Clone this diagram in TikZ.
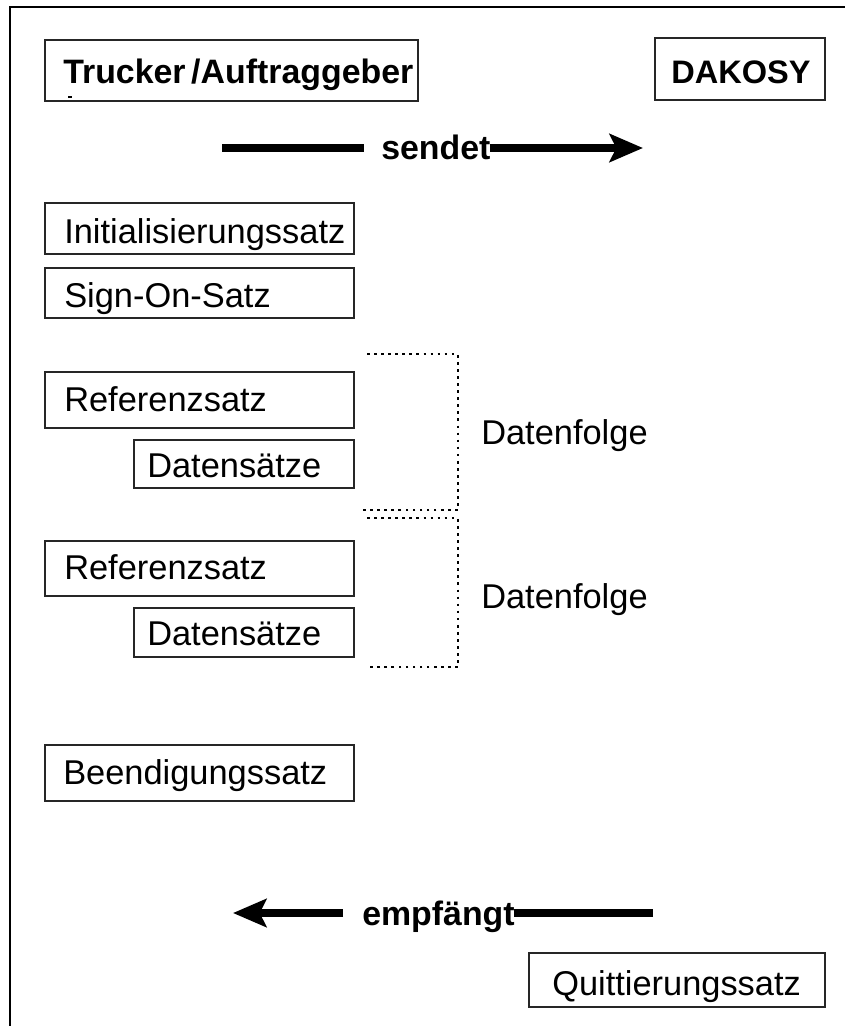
\documentclass[tikz,border=0pt]{standalone}
\usepackage{fontspec}
\setmainfont{Liberation Sans}
\usetikzlibrary{fit,arrows.meta}
\begin{document}
\begin{tikzpicture}[x=0.75pt,y=-0.75pt,
  box/.style={draw=black!85, line width=0.9pt, inner sep=0pt},
  txt/.style={inner sep=0pt, font=\fontsize{25.8}{30}\selectfont},
  btxt/.style={inner sep=0pt, font=\fontsize{25.4}{30}\selectfont\bfseries},
  frame/.style={line width=1.9pt},
  bigline/.style={line width=6pt},
  dotline/.style={line width=2pt, dash pattern=on 2pt off 3.3pt}
]
\useasboundingbox (0,0) rectangle (845,1026);
% outer frame
\coordinate (f1) at (10,1026);
\coordinate (f2) at (10,7);
\coordinate (f3) at (845,7);
\draw[frame] (f1) -- (f2) -- (f3);

% header boxes
\node[box, fit={(45,40) (418,101)}] (trucker) {};
\node[btxt, anchor=base west] (truckertxt) at (63,83) {Trucker\,/Auftraggeber};
\coordinate (m1) at (68,97);
\coordinate (m2) at (72,97);
\draw[line width=1pt] (m1) -- (m2);
\node[box, fit={(655,38) (825,100)}] (dakosy) {};
\node[btxt, anchor=base, font=\fontsize{24.4}{30}\selectfont\bfseries] (dakosytxt) at (741,83) {DAKOSY};

% sendet arrow
\node[btxt, anchor=base west] (sendet) at (381,159) {sendet};
\coordinate (s1) at (222,148);
\coordinate (s2) at (364,148);
\coordinate (s3) at (490,148);
\coordinate (s4) at (643,148);
\draw[bigline] (s1) -- (s2);
\draw[bigline, -{Stealth[length=25pt, width=21pt, inset=5pt]}] (s3) -- (s4);

% record boxes
\node[box, fit={(45,203) (354,254)}] (init) {};
\node[txt, anchor=base west] (inittxt) at (64,243) {Initialisierungssatz};
\node[box, fit={(45,268) (354,318)}] (sign) {};
\node[txt, anchor=base west] (signtxt) at (64,307) {Sign-On-Satz};

\node[box, fit={(45,372) (354,428)}] (refa) {};
\node[txt, anchor=base west] (refatxt) at (64,411) {Referenzsatz};
\node[box, fit={(134,440) (354,488)}] (data) {};
\node[txt, anchor=base west] (datatxt) at (147,477) {Datensätze};

\node[box, fit={(45,541) (354,596)}] (refb) {};
\node[txt, anchor=base west] (refbtxt) at (64,579) {Referenzsatz};
\node[box, fit={(134,608) (354,657)}] (datb) {};
\node[txt, anchor=base west] (datbtxt) at (147,645) {Datensätze};

\node[box, fit={(45,745) (354,801)}] (ende) {};
\node[txt, anchor=base west] (endetxt) at (63,784) {Beendigungssatz};

% brackets
\coordinate (a1) at (367,354);
\coordinate (a2) at (458,354);
\coordinate (a3) at (458,510);
\coordinate (a4) at (359,510);
\draw[dotline] (a1) -- (a2) -- (a3) -- (a4);
\node[txt, anchor=base west] (folgea) at (481,444) {Datenfolge};

\coordinate (b1) at (367,518);
\coordinate (b2) at (458,518);
\coordinate (b3) at (458,667);
\coordinate (b4) at (367,667);
\draw[dotline] (b1) -- (b2) -- (b3) -- (b4);
\node[txt, anchor=base west] (folgeb) at (481,608) {Datenfolge};

% empfaengt arrow
\node[btxt, anchor=base west] (empf) at (362,925) {empfängt};
\coordinate (e1) at (653,913);
\coordinate (e2) at (514,913);
\coordinate (e3) at (343,913);
\coordinate (e4) at (233,913);
\draw[bigline] (e1) -- (e2);
\draw[bigline, -{Stealth[length=25pt, width=21pt, inset=5pt]}] (e3) -- (e4);

\node[box, fit={(529,953) (825,1007)}] (quit) {};
\node[txt, anchor=base west] (quittxt) at (552,995) {Quittierungssatz};
\end{tikzpicture}
\end{document}
